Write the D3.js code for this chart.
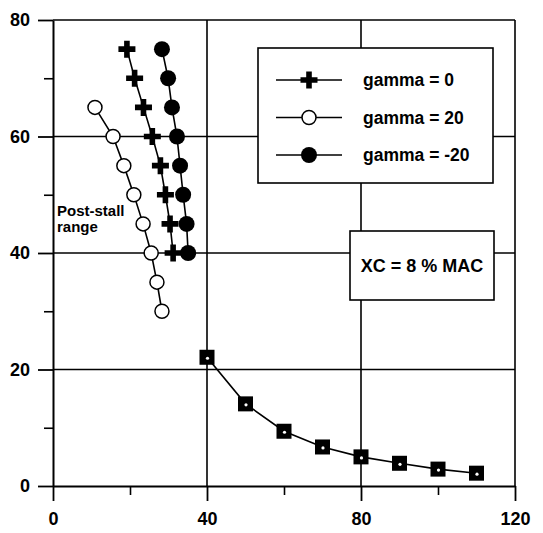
<!DOCTYPE html>
<html>
<head>
<meta charset="utf-8">
<script src="https://cdn.jsdelivr.net/npm/d3@7"></script>
<style>
  html, body { margin: 0; padding: 0; background: #fff; }
  svg { display: block; font-family: "Liberation Sans", Arial, sans-serif; }
</style>
</head>
<body>
<svg id="chart" width="543" height="533"></svg>
<script>
// Pre-stall branches, one per gamma setting: [x, y]
const gamma0 = [[19.2, 75], [21.2, 70], [23.5, 65], [25.8, 60], [27.9, 55], [29.2, 50], [30.4, 45], [31.2, 40]];
const gamma20 = [[10.9, 65], [15.6, 60], [18.4, 55], [21.0, 50], [23.4, 45], [25.5, 40], [27.0, 35], [28.3, 30]];
const gammaMinus20 = [[28.3, 75], [29.9, 70], [30.9, 65], [32.2, 60], [33.0, 55], [33.8, 50], [34.7, 45], [35.1, 40]];
// Attached-flow branch shared by all three settings
const attached = [[40, 22.1], [50, 14.1], [60, 9.4], [70, 6.7], [80, 5.0], [90, 3.9], [100, 2.9], [110, 2.2]];

const xTicks = [0, 40, 80, 120];
const xMinor = [20, 60, 100];
const yTicks = [0, 20, 40, 60, 80];
const yMinor = [10, 30, 50, 70];
const legendLabels = ["gamma = 0", "gamma = 20", "gamma = -20"];
const noteText = "XC = 8 % MAC";
const regionLabel = ["Post-stall", "range"];

const svg = d3.select("#chart");
const x = d3.scaleLinear().domain([0, 120]).range([53, 515]);
const y = d3.scaleLinear().domain([0, 80]).range([486, 20]);

// Grid
const grid = svg.append("g").attr("stroke", "#000").attr("stroke-width", 1.6);
grid.selectAll("line.h").data(yTicks.filter(d => d > 0)).join("line")
  .attr("x1", x(0)).attr("x2", x(120)).attr("y1", d => y(d)).attr("y2", d => y(d));
grid.selectAll("line.v").data(xTicks.filter(d => d > 0)).join("line")
  .attr("y1", y(0)).attr("y2", y(80)).attr("x1", d => x(d)).attr("x2", d => x(d));

// Axes
function styleAxis(g) {
  g.select(".domain").attr("stroke", "#000").attr("stroke-width", 2);
  g.selectAll(".tick line").attr("stroke", "#000").attr("stroke-width", 1.8);
  g.selectAll(".tick text").attr("fill", "#000").attr("font-size", 18).attr("font-weight", "bold");
}
const yAxis = svg.append("g").attr("transform", `translate(${x(0)},0)`)
  .call(d3.axisLeft(y).tickValues(yTicks).tickSize(15).tickSizeOuter(0).tickPadding(8));
styleAxis(yAxis);
svg.append("g").attr("transform", `translate(${x(0)},0)`)
  .call(d3.axisLeft(y).tickValues(yMinor).tickSize(9).tickFormat(""))
  .call(g => g.select(".domain").remove())
  .selectAll(".tick line").attr("stroke", "#000").attr("stroke-width", 1.6);

const xAxis = svg.append("g").attr("transform", `translate(0,${y(0)})`)
  .call(d3.axisBottom(x).tickValues(xTicks).tickSize(15).tickSizeOuter(0).tickPadding(11));
styleAxis(xAxis);
svg.append("g").attr("transform", `translate(0,${y(0)})`)
  .call(d3.axisBottom(x).tickValues(xMinor).tickSize(9).tickFormat(""))
  .call(g => g.select(".domain").remove())
  .selectAll(".tick line").attr("stroke", "#000").attr("stroke-width", 1.6);

// Marker drawers
function crossPath(s) {
  const a = s / 2, w = 2.8;
  return `M${-a},${-w}H${-w}V${-a}H${w}V${-w}H${a}V${w}H${w}V${a}H${-w}V${w}H${-a}Z`;
}
function drawMarker(g, kind) {
  if (kind === "cross") g.append("path").attr("d", crossPath(17)).attr("fill", "#000");
  else if (kind === "open") g.append("circle").attr("r", 7).attr("fill", "#fff").attr("stroke", "#000").attr("stroke-width", 1.5);
  else if (kind === "filled") g.append("circle").attr("r", 8).attr("fill", "#000");
  else if (kind === "square") {
    g.append("rect").attr("x", -7.5).attr("y", -7.5).attr("width", 15).attr("height", 15).attr("fill", "#000");
    g.append("circle").attr("r", 1.6).attr("cx", 0.5).attr("cy", 1).attr("fill", "#fff");
  }
}

const line = d3.line().x(d => x(d[0])).y(d => y(d[1]));
const seriesList = [
  { data: gamma20, kind: "open" },
  { data: gamma0, kind: "cross" },
  { data: gammaMinus20, kind: "filled" },
  { data: attached, kind: "square" }
];
seriesList.forEach(s => {
  svg.append("path").datum(s.data).attr("d", line)
    .attr("fill", "none").attr("stroke", "#000").attr("stroke-width", 1.6);
  svg.append("g").selectAll("g").data(s.data).join("g")
    .attr("transform", d => `translate(${x(d[0])},${y(d[1])})`)
    .each(function () { drawMarker(d3.select(this), s.kind); });
});

// Region label
svg.append("text").attr("font-size", 15).attr("font-weight", "bold").attr("fill", "#000")
  .selectAll("tspan").data(regionLabel).join("tspan")
  .attr("x", 57).attr("y", (d, i) => 215.5 + i * 16.5).text(d => d);

// Legend
const legend = svg.append("g");
legend.append("rect").attr("x", 258).attr("y", 48).attr("width", 235).attr("height", 135)
  .attr("fill", "#fff").attr("stroke", "#000").attr("stroke-width", 1.6);
["cross", "open", "filled"].forEach((kind, i) => {
  const cy = 80 + i * 37.5;
  legend.append("line").attr("x1", 276).attr("x2", 342).attr("y1", cy).attr("y2", cy)
    .attr("stroke", "#000").attr("stroke-width", 1.6);
  drawMarker(legend.append("g").attr("transform", `translate(309,${cy})`), kind);
  legend.append("text").attr("x", 363).attr("y", cy + 6).attr("font-size", 17.5)
    .attr("font-weight", "bold").attr("fill", "#000").text(legendLabels[i]);
});

// Configuration note
svg.append("rect").attr("x", 350).attr("y", 231).attr("width", 144).attr("height", 69)
  .attr("fill", "#fff").attr("stroke", "#000").attr("stroke-width", 1.6);
svg.append("text").attr("x", 422).attr("y", 272).attr("text-anchor", "middle")
  .attr("font-size", 18).attr("font-weight", "bold").attr("fill", "#000").text(noteText);
</script>
</body>
</html>
